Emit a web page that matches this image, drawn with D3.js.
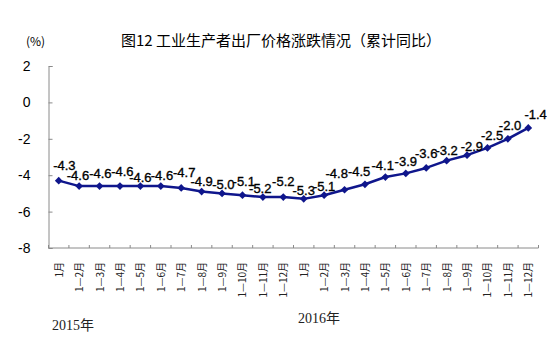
<!DOCTYPE html>
<html>
<head>
<meta charset="utf-8">
<script src="https://cdn.jsdelivr.net/npm/d3@7/dist/d3.min.js"></script>
<style>
html,body{margin:0;padding:0;background:#fff;}
svg{display:block;}
</style>
</head>
<body>
<svg id="chart" width="554" height="350"></svg>
<script>
const title = "图12 工业生产者出厂价格涨跌情况（累计同比）";
const unitLabel = "(%)";
const categories = ["1月","1—2月","1—3月","1—4月","1—5月","1—6月","1—7月","1—8月","1—9月","1—10月","1—11月","1—12月",
                    "1月","1—2月","1—3月","1—4月","1—5月","1—6月","1—7月","1—8月","1—9月","1—10月","1—11月","1—12月"];
const values = [-4.3,-4.6,-4.6,-4.6,-4.6,-4.6,-4.7,-4.9,-5.0,-5.1,-5.2,-5.2,
                -5.3,-5.1,-4.8,-4.5,-4.1,-3.9,-3.6,-3.2,-2.9,-2.5,-2.0,-1.4];
const yTicks = [2,0,-2,-4,-6,-8];
const years = ["2015年","2016年"];

// label nudges (annotation placement, px)
const labelDx = [5.7,-1.2,0.8,2.4,0,1.2,3,0,1.3,1.3,-2.6,0,0,0,-7.8,-5.8,-2.7,0,0,0,4.8,4.7,2.2,7.3];
const labelDy = [-15,-11,-13,-14.5,-8.5,-11,-15.7,-10.5,-8.5,-13.5,-9,-16,-8,-9,-16.8,-12.6,-12,-11.7,-14.6,-10.6,-8.5,-12,-13.8,-13.6];

const svg = d3.select("#chart");
const pLeft = 48.5, pRight = 538.5, pTop = 66, pBottom = 248;

const x = d3.scaleBand().domain(d3.range(values.length)).range([pLeft, pRight]).padding(0);
const y = d3.scaleLinear().domain([-8, 2]).range([pBottom, pTop]);
const cx = i => x(i) + x.bandwidth() / 2;
const hy = s => String(s).replace("\u2212", "-");

const axisColor = "#8a8a8a";

// title
svg.append("text").attr("x", 281).attr("y", 46).attr("text-anchor", "middle")
  .attr("font-family", "'Noto Sans CJK SC', sans-serif").attr("font-size", 15).attr("fill", "#000")
  .text(title);
svg.append("text").attr("x", 26).attr("y", 46)
  .attr("font-family", "'Noto Sans CJK SC', sans-serif").attr("font-size", 12).attr("fill", "#000")
  .text(unitLabel);

// y axis
const yAxis = d3.axisLeft(y).tickValues(yTicks).tickSize(-4).tickPadding(18).tickFormat(d => hy(d3.format("d")(d)));
const gy = svg.append("g").attr("transform", `translate(${pLeft},0)`).call(yAxis);
gy.select(".domain").attr("stroke", axisColor);
gy.selectAll(".tick line").attr("stroke", axisColor);
gy.selectAll(".tick text").attr("font-family", "'Liberation Sans', Arial, sans-serif")
  .attr("font-size", 14).attr("fill", "#000");

// x axis line + boundary ticks
const gx = svg.append("g").attr("transform", `translate(0,${pBottom})`);
gx.append("line").attr("x1", pLeft).attr("x2", pRight).attr("y1", 0).attr("y2", 0).attr("stroke", axisColor);
const bounds = d3.range(values.length + 1).map(i => i < values.length ? x(i) : x(values.length - 1) + x.bandwidth());
gx.selectAll("line.tk").data(bounds).join("line").attr("class", "tk")
  .attr("x1", d => d).attr("x2", d => d).attr("y1", 0).attr("y2", -3).attr("stroke", axisColor);

// x labels rotated
svg.append("g").selectAll("text").data(categories).join("text")
  .attr("transform", (d, i) => `translate(${cx(i) + 0.5},262) rotate(-90)`)
  .attr("text-anchor", "end").attr("dy", "0.35em")
  .attr("font-family", "'Noto Sans CJK SC', sans-serif").attr("font-size", 10).attr("fill", "#222")
  .text(d => d);

// year labels
svg.append("text").attr("x", 52).attr("y", 330)
  .attr("font-family", "'Liberation Serif', 'Noto Sans CJK SC', serif").attr("font-size", 14).attr("fill", "#222")
  .text(years[0]);
svg.append("text").attr("x", 298).attr("y", 323)
  .attr("font-family", "'Liberation Serif', 'Noto Sans CJK SC', serif").attr("font-size", 14).attr("fill", "#222")
  .text(years[1]);

// line
const lineColor = "#0f168c";
const line = d3.line().x((d, i) => cx(i)).y(d => y(d));
svg.append("path").datum(values).attr("d", line).attr("fill", "none")
  .attr("stroke", lineColor).attr("stroke-width", 2.5).attr("stroke-linejoin", "round");

// markers
svg.append("g").selectAll("path").data(values).join("path")
  .attr("d", d3.symbol().type(d3.symbolDiamond2).size(38))
  .attr("transform", (d, i) => `translate(${cx(i)},${y(d)})`)
  .attr("fill", lineColor);

// data labels
svg.append("g").selectAll("text").data(values).join("text")
  .attr("x", (d, i) => cx(i) + labelDx[i])
  .attr("y", (d, i) => y(d) + labelDy[i])
  .attr("dy", "0.35em").attr("text-anchor", "middle")
  .attr("font-family", "'Liberation Sans', Arial, sans-serif").attr("font-size", 13).attr("fill", "#000")
  .attr("stroke", "#000").attr("stroke-width", 0.35)
  .text(d => hy(d3.format(".1f")(d)));
</script>
</body>
</html>
